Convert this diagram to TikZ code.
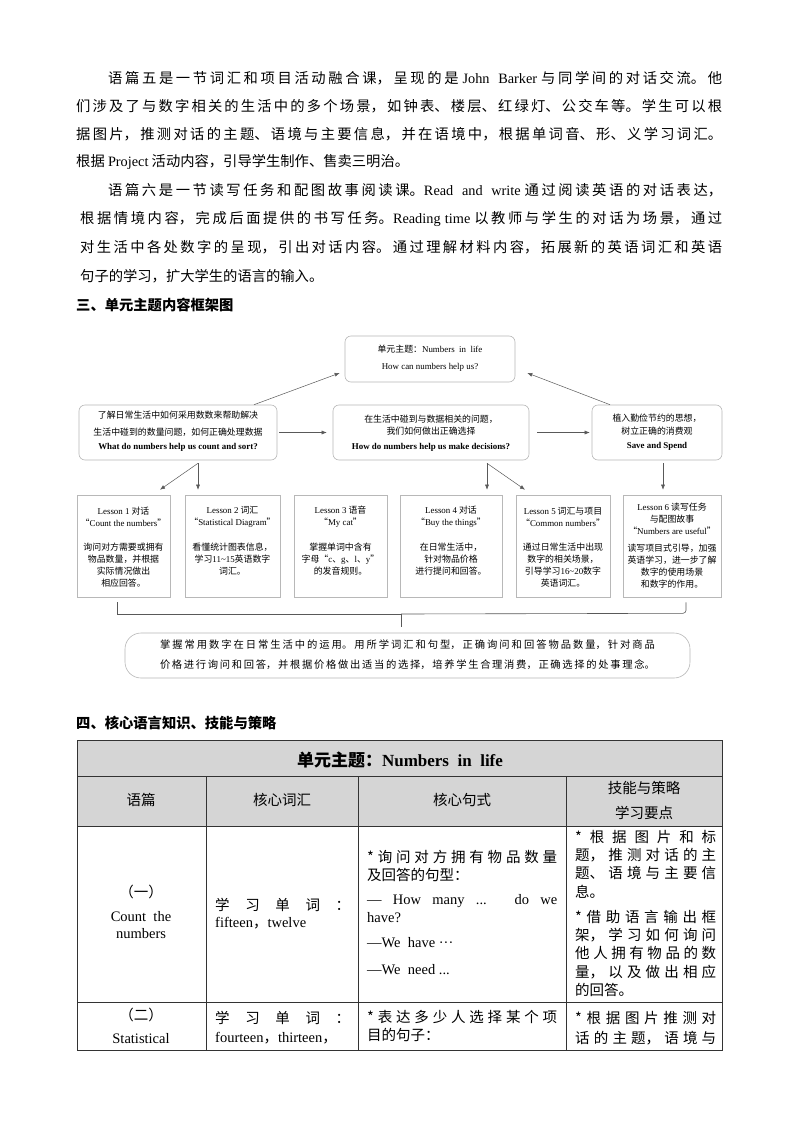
\documentclass[tikz,border=0pt]{standalone}
\usepackage{fontspec}
\setmainfont{Noto Sans CJK SC}
\newfontfamily\latin{Liberation Serif}
\usetikzlibrary{arrows.meta}
\XeTeXlinebreaklocale "zh"
\XeTeXlinebreakskip=0pt plus 6pt minus 0.3pt
\newcommand\lat[1]{{\latin #1}}
\newcommand\jl[2]{\parbox{#1}{\tolerance=10000\hbadness=10000\parfillskip=0pt\relax #2\par}}
\definecolor{lgray}{gray}{0.72}
\definecolor{agray}{gray}{0.35}
\begin{document}
\begin{tikzpicture}[x=1pt,y=-1pt,
  tl/.style={anchor=west,inner sep=0,font=\fontsize{14.3}{17}\selectfont},
  hd/.style={anchor=west,inner sep=0,font=\fontsize{14.3}{17}\selectfont\bfseries},
  dbox/.style={draw=lgray,rounded corners=6pt,line width=0.6pt},
  lbox/.style={draw=lgray,line width=0.6pt},
  arr/.style={-{Latex[length=5pt,width=4pt]},draw=agray,line width=0.5pt},
  dt/.style={inner sep=0,align=center,font=\fontsize{8.9}{12}\selectfont},
  tc/.style={anchor=west,inner sep=0,font=\fontsize{14.5}{17}\selectfont},
  tcc/.style={inner sep=0,font=\fontsize{14.5}{17}\selectfont}]
\useasboundingbox[fill=white] (0,0) rectangle (800,1132);
% body text
\node[tl] (p1) at (108,78) {\jl{614pt}{语篇五是一节词汇和项目活动融合课，呈现的是 \lat{John\ \ Barker} 与同学间的对话交流。他}};
\node[tl] (p2) at (76,106) {\jl{646pt}{们涉及了与数字相关的生活中的多个场景，如钟表、楼层、红绿灯、公交车等。学生可以根}};
\node[tl] (p3) at (76,134) {\jl{646pt}{据图片，推测对话的主题、语境与主要信息，并在语境中，根据单词音、形、义学习词汇。}};
\node[tl] (p4) at (76,162) {根据 \lat{Project} 活动内容，引导学生制作、售卖三明治。};
\node[tl] (p5) at (108,190) {\jl{614pt}{语篇六是一节读写任务和配图故事阅读课。\lat{Read\ \ and\ \ write} 通过阅读英语的对话表达，}};
\node[tl] (p6) at (80,219) {\jl{642pt}{根据情境内容，完成后面提供的书写任务。\lat{Reading time} 以教师与学生的对话为场景，通过}};
\node[tl] (p7) at (80,247) {\jl{642pt}{对生活中各处数字的呈现，引出对话内容。通过理解材料内容，拓展新的英语词汇和英语}};
\node[tl] (p8) at (80,276) {句子的学习，扩大学生的语言的输入。};
\node[hd] (h3) at (76,305) {三、单元主题内容框架图};
% diagram
\node[dbox,minimum width=170pt,minimum height=46pt] (top) at (430,359) {};
\node[dt] at (430,349) {单元主题：\lat{Numbers\ \ in\ \ life}};
\node[dt] at (430,367) {\lat{How can numbers help us?}};
\node[dbox,minimum width=198pt,minimum height=55pt] (A) at (178,432.5) {};
\node[dt] at (178,415) {了解日常生活中如何采用数数来帮助解决};
\node[dt] at (178,432) {生活中碰到的数量问题，如何正确处理数据};
\node[dt] at (178,447) {\lat{\bfseries What do numbers help us count and sort?}};
\node[dbox,minimum width=196pt,minimum height=55pt] (B) at (431,432.5) {};
\node[dt] at (431,419) {在生活中碰到与数据相关的问题，};
\node[dt] at (431,431) {我们如何做出正确选择};
\node[dt] at (431,447) {\lat{\bfseries How do numbers help us make decisions?}};
\node[dbox,minimum width=130pt,minimum height=55pt] (C) at (657,432.5) {};
\node[dt] at (657,418) {植入勤俭节约的思想，};
\node[dt] at (657,431) {树立正确的消费观};
\node[dt] at (657,446) {\lat{\bfseries Save and Spend}};
\draw[arr] ([xshift=76pt]A.north) -- ([xshift=-5pt,yshift=-14pt]top.west);
\draw[arr] ([xshift=-47pt]C.north) -- ([xshift=12pt,yshift=-14pt]top.east);
\draw[arr,shorten <=2pt,shorten >=6pt] (A.east) -- (B.west);
\draw[arr,shorten <=8pt,shorten >=2pt] (B.east) -- (C.west);
% lessons
\node[lbox,minimum width=93pt,minimum height=102pt] (L1) at (123.5,546) {};
\node[lbox,minimum width=95pt,minimum height=102pt] (L2) at (232.5,546) {};
\node[lbox,minimum width=93pt,minimum height=102pt] (L3) at (340.5,546) {};
\node[lbox,minimum width=102pt,minimum height=102pt] (L4) at (451,546) {};
\node[lbox,minimum width=94pt,minimum height=102pt] (L5) at (563,546) {};
\node[lbox,minimum width=98pt,minimum height=102pt] (L6) at (672,546) {};
\node[dt] at (123.5,516.5) {\lat{Lesson 1} 对话\\“\lat{Count the numbers}”};
\node[dt] at (123.5,565) {询问对方需要或拥有\\物品数量，并根据\\实际情况做出\\相应回答。};
\node[dt] at (232.5,516.5) {\lat{Lesson 2} 词汇\\“\lat{Statistical Diagram}”};
\node[dt] at (232.5,559) {看懂统计图表信息，\\学习\lat{11\textasciitilde15}英语数字\\词汇。};
\node[dt] at (340.5,516.5) {\lat{Lesson 3} 语音\\“\lat{My cat}”};
\node[dt] at (340.5,559) {掌握单词中含有\\字母“\lat{c}、\lat{g}、\lat{l}、\lat{y}”\\的发音规则。};
\node[dt] at (451,516.5) {\lat{Lesson 4} 对话\\“\lat{Buy the things}”};
\node[dt] at (451,559) {在日常生活中，\\针对物品价格\\进行提问和回答。};
\node[dt] at (563,516.5) {\lat{Lesson 5} 词汇与项目\\“\lat{Common numbers}”};
\node[dt] at (563,565) {通过日常生活中出现\\数字的相关场景，\\引导学习\lat{16\textasciitilde20}数字\\英语词汇。};
\node[dt] at (672,518.5) {\lat{Lesson 6} 读写任务\\与配图故事\\“\lat{Numbers are useful}”};
\node[dt] at (672,566) {读写项目式引导，加强\\英语学习，进一步了解\\数字的使用场景\\和数字的作用。};
\draw[arr] ([xshift=20pt,yshift=-3pt]A.south) -- ([xshift=36.5pt,yshift=5pt]L1.north);
\draw[arr] ([xshift=20pt,yshift=-3pt]A.south) -- ([xshift=-34.5pt,yshift=5pt]L2.north);
\draw[arr] ([xshift=56pt,yshift=-3pt]B.south) -- ([xshift=36pt,yshift=5pt]L4.north);
\draw[arr] ([xshift=56pt,yshift=-3pt]B.south) -- ([xshift=-38pt,yshift=5pt]L5.north);
\draw[arr] ([xshift=6pt,yshift=-3pt]C.south) -- ([xshift=-9pt,yshift=5pt]L6.north);
% bracket and bottom box
\node[draw=lgray,line width=0.6pt,rounded corners=16pt,minimum width=565pt,minimum height=45pt] (bot) at (407.5,655.5) {};
\coordinate (bl) at (117,614);
\coordinate (bm) at (401,614);
\draw[agray,line width=0.6pt] ([xshift=-6.5pt,yshift=-5pt]L1.south) -- (bl) -- (bm);
\draw[agray,line width=0.6pt,rounded corners=3pt] (bm) -- ([xshift=14pt,yshift=-16pt]L6.south) -- ([xshift=14pt,yshift=-5pt]L6.south);
\draw[agray,line width=0.6pt] (bm) -- ([yshift=6pt]bot.north -| bm);
\node[inner sep=0,font=\fontsize{10.3}{12}\selectfont] at (407.5,645) {\jl{495pt}{掌握常用数字在日常生活中的运用。用所学词汇和句型，正确询问和回答物品数量，针对商品}};
\node[inner sep=0,font=\fontsize{10.3}{12}\selectfont] at (407.5,665) {\jl{495pt}{价格进行询问和回答，并根据价格做出适当的选择，培养学生合理消费，正确选择的处事理念。}};
% table
\node[hd] (h4) at (76,723) {四、核心语言知识、技能与策略};
\fill[gray!33] (77,740) rectangle (722,826);
\draw[black!80,line width=0.8pt] (77,740) rectangle (722,1050);
\draw[black!80,line width=0.8pt] (77,776) -- (722,776) (77,826) -- (722,826) (77,1002) -- (722,1002);
\draw[black!80,line width=0.8pt] (206,776) -- (206,1050) (358,776) -- (358,1050) (566,776) -- (566,1050);
\node[inner sep=0,font=\fontsize{17}{20}\selectfont\bfseries] (th) at (400,760) {单元主题：\lat{Numbers\ \ in\ \ life}};
\node[tcc] at (141,800) {语篇};
\node[tcc] at (282,800) {核心词汇};
\node[tcc] at (462,800) {核心句式};
\node[tcc] at (644,788) {技能与策略};
\node[tcc] at (644,813) {学习要点};
\node[tcc] at (141,892) {（一）};
\node[tcc] at (141,917) {\lat{Count\ \ the}};
\node[tcc] at (141,934) {\lat{numbers}};
\node[tc] at (215,905) {\jl{135pt}{学 习 单 词 ：}};
\node[tc] at (215,923) {\lat{fifteen}，\lat{twelve}};
\node[tc] at (367,857) {\jl{190pt}{*询问对方拥有物品数量}};
\node[tc] at (367,875) {及回答的句型：};
\node[tc] at (367,901) {\jl{190pt}{\lat{— How many ... do we}}};
\node[tc] at (367,918) {\lat{have?}};
\node[tc] at (367,943) {\lat{—We\ \ have ···}};
\node[tc] at (367,970) {\lat{—We\ \ need ...}};
\node[tc] at (575,837) {\jl{141pt}{*根据图片和标}};
\node[tc] at (575,855) {\jl{141pt}{题，推测对话的主}};
\node[tc] at (575,873) {\jl{141pt}{题、语境与主要信}};
\node[tc] at (575,892) {息。};
\node[tc] at (575,917) {\jl{141pt}{*借助语言输出框}};
\node[tc] at (575,935) {\jl{141pt}{架，学习如何询问}};
\node[tc] at (575,953) {\jl{141pt}{他人拥有物品的数}};
\node[tc] at (575,972) {\jl{141pt}{量，以及做出相应}};
\node[tc] at (575,990) {的回答。};
\node[tcc] at (141,1015) {（二）};
\node[tcc] at (141,1039) {\lat{Statistical}};
\node[tc] at (215,1018) {\jl{135pt}{学 习 单 词 ：}};
\node[tc] at (215,1038) {\lat{fourteen}，\lat{thirteen}，};
\node[tc] at (367,1017) {\jl{190pt}{*表达多少人选择某个项}};
\node[tc] at (367,1035) {目的句子：};
\node[tc] at (575,1018) {\jl{141pt}{*根据图片推测对}};
\node[tc] at (575,1038) {\jl{141pt}{话的主题，语境与}};
\end{tikzpicture}
\end{document}
